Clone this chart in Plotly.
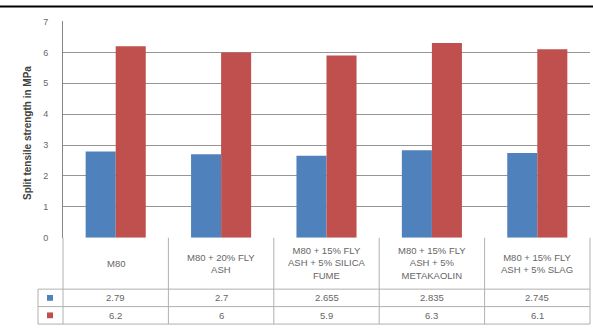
import plotly.graph_objects as go

W, H = 593, 331

categories = ["M80", "M80 + 20% FLY<br>ASH", "M80 + 15% FLY<br>ASH + 5% SILICA<br>FUME",
              "M80 + 15% FLY<br>ASH + 5%<br>METAKAOLIN", "M80 + 15% FLY<br>ASH + 5% SLAG"]
series1 = [2.79, 2.7, 2.655, 2.835, 2.745]
series2 = [6.2, 6, 5.9, 6.3, 6.1]
series1_labels = ["2.79", "2.7", "2.655", "2.835", "2.745"]
series2_labels = ["6.2", "6", "5.9", "6.3", "6.1"]
y_ticks = [0, 1, 2, 3, 4, 5, 6, 7]

BLUE = "#4F81BD"
RED = "#C0504D"
TXT = "#666666"
LINE = "#B0B0B0"

# pixel geometry
PL, PR, PT, PB = 63, 590, 17, 240
ROW1, ROW2, ROW3 = 293, 311, 329
LEGL = 38

def px(x):
    return x / W

def py(y):
    return 1 - y / H

fig = go.Figure()
xs = list(range(len(categories)))
fig.add_trace(go.Bar(x=xs, y=series1, marker_color=BLUE, marker_line_width=0, name="s1"))
fig.add_trace(go.Bar(x=xs, y=series2, marker_color=RED, marker_line_width=0, name="s2"))

shapes = []
# top black frame line
shapes.append(dict(type="line", xref="paper", yref="paper", x0=0, x1=1, y0=py(1.5), y1=py(1.5),
                   line=dict(color="black", width=2)))
# table lines
ncat = len(categories)
cw = (PR - PL) / ncat
for i in range(ncat + 1):
    x = PL + i * cw
    shapes.append(dict(type="line", xref="paper", yref="paper", x0=px(x), x1=px(x),
                       y0=py(PB), y1=py(ROW3), line=dict(color=LINE, width=1)))
for y in [ROW1, ROW2, ROW3]:
    shapes.append(dict(type="line", xref="paper", yref="paper", x0=px(LEGL), x1=px(PR),
                       y0=py(y), y1=py(y), line=dict(color=LINE, width=1)))
shapes.append(dict(type="line", xref="paper", yref="paper", x0=px(LEGL), x1=px(LEGL),
                   y0=py(ROW1), y1=py(ROW3), line=dict(color=LINE, width=1)))
# legend keys
for (y0, y1), c in [((ROW1, ROW2), BLUE), ((ROW2, ROW3), RED)]:
    cy = (y0 + y1) / 2
    shapes.append(dict(type="rect", xref="paper", yref="paper", x0=px(47), x1=px(53),
                       y0=py(cy - 3), y1=py(cy + 3), fillcolor=c, line=dict(width=0)))

annotations = []
for i, cat in enumerate(categories):
    cx = PL + (i + 0.5) * cw
    annotations.append(dict(x=px(cx), y=py((PB + ROW1) / 2), xref="paper", yref="paper",
                            text=cat, showarrow=False, font=dict(size=9.5, color=TXT),
                            xanchor="center", yanchor="middle", align="center"))
    annotations.append(dict(x=px(cx), y=py((ROW1 + ROW2) / 2), xref="paper", yref="paper",
                            text=series1_labels[i], showarrow=False, font=dict(size=9.5, color=TXT),
                            xanchor="center", yanchor="middle"))
    annotations.append(dict(x=px(cx), y=py((ROW2 + ROW3) / 2), xref="paper", yref="paper",
                            text=series2_labels[i], showarrow=False, font=dict(size=9.5, color=TXT),
                            xanchor="center", yanchor="middle"))
annotations.append(dict(x=px(27), y=py(132), xref="paper", yref="paper",
                        text="<b>Split tensile strength in MPa</b>", textangle=-90, showarrow=False,
                        font=dict(size=10, color="#404040"), xanchor="center", yanchor="middle"))

fig.update_layout(
    width=W, height=H,
    margin=dict(l=0, r=0, t=0, b=0),
    paper_bgcolor="white", plot_bgcolor="white",
    font=dict(family="Liberation Sans, Arial, sans-serif", color=TXT),
    barmode="group", bargap=0.43, bargroupgap=0,
    showlegend=False,
    shapes=shapes, annotations=annotations,
    xaxis=dict(domain=[px(PL), px(PR)], range=[-0.5, ncat - 0.5], showticklabels=False,
               showgrid=False, zeroline=False, showline=False, fixedrange=True),
    yaxis=dict(domain=[py(PB), py(PT)], range=[0, 7], tickvals=y_ticks,
               showgrid=True, gridcolor="#959595", gridwidth=1, zeroline=False,
               showline=True, linecolor="#868686", linewidth=1,
               ticks="", ticklabelstandoff=12, tickfont=dict(size=9, color=TXT)),
)

fig.write_html("out.html")
